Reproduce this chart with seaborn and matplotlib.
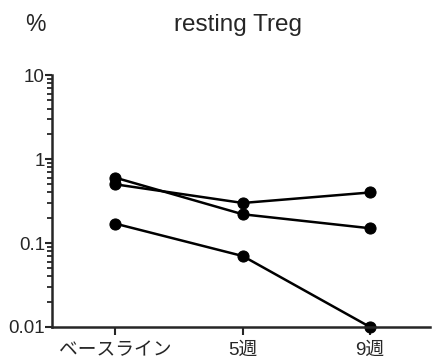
import numpy as np
import pandas as pd
import seaborn as sns
import matplotlib.pyplot as plt
from matplotlib.ticker import FixedLocator, LogLocator, NullFormatter

# data
timepoints = ["ベースライン", "5週", "9週"]
subject_a = [0.60, 0.22, 0.15]
subject_b = [0.50, 0.30, 0.40]
subject_c = [0.17, 0.07, 0.01]

rows = []
for name, vals in [("A", subject_a), ("B", subject_b), ("C", subject_c)]:
    for i, v in enumerate(vals):
        rows.append({"subject": name, "pos": i, "value": v})
df = pd.DataFrame(rows)

sns.set_style("ticks")
plt.rcParams['font.family'] = ['Liberation Sans', 'Noto Sans CJK JP', 'DejaVu Sans']

fig = plt.figure(figsize=(4.32, 3.56), dpi=100)
ax = fig.add_axes([0.12, 0.0815, 0.875, 0.7075])
ax.set_yscale("log")

sns.lineplot(data=df, x="pos", y="value", units="subject", estimator=None,
             color="black", marker="o", markersize=8, linewidth=1.8,
             markeredgecolor="black", ax=ax, clip_on=False)

ax.set_ylim(0.01, 10)
ax.set_xlim(-0.5, 2.47)
ax.set_xticks(range(len(timepoints)))
ax.set_xticklabels(timepoints, fontsize=13.5)
ax.yaxis.set_major_locator(FixedLocator([0.01, 0.1, 1, 10]))
ax.set_yticklabels(["0.01", "0.1", "1", "10"], fontsize=13.5)
ax.yaxis.set_minor_locator(LogLocator(base=10, subs=np.arange(2, 10)))
ax.yaxis.set_minor_formatter(NullFormatter())
ax.tick_params(axis="y", which="major", length=5, width=1.5, pad=0)
ax.tick_params(axis="y", which="minor", length=3.5, width=1.3)
ax.tick_params(axis="x", length=6, width=1.5, pad=5)
ax.set_xlabel("")
ax.set_ylabel("")
for s in ["left", "bottom"]:
    ax.spines[s].set_linewidth(1.8)
sns.despine(ax=ax)

fig.text(0.081, 0.93, "%", fontsize=16.5, ha="center", va="center")
fig.text(0.552, 0.93, "resting Treg", fontsize=17.5, ha="center", va="center")

fig.savefig("out.png", dpi=100)
